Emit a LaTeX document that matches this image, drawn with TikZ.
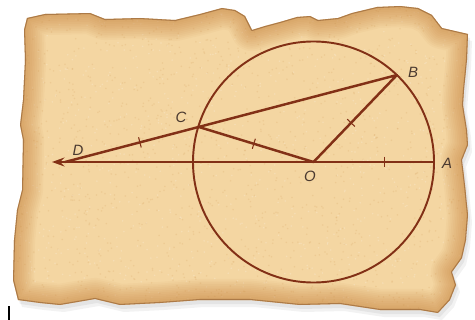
\documentclass[tikz,border=0pt]{standalone}
\usepackage{fontspec}
\setsansfont{Liberation Sans}
\usetikzlibrary{arrows.meta,calc}
\definecolor{carta}{RGB}{244,214,162}
\definecolor{bruciato}{RGB}{200,130,60}
\definecolor{scuro}{RGB}{120,70,30}
\definecolor{inchiostro}{RGB}{130,48,22}
\definecolor{lettera}{RGB}{75,58,48}
\tikzset{
  tratto/.style={inchiostro, line width=1.4pt},
  tacca/.style={inchiostro, line width=0.6pt},
  lettera/.style={font=\sffamily\itshape\fontsize{8.5}{10}\selectfont, text=lettera, inner sep=0pt}
}
% Bordo strappato della pergamena
\def\bordo{(27,18) -- (45,14) -- (90,13) -- (105,19) -- (140,18) -- (175,20) -- (200,14)
  -- (222,8) -- (235,10) -- (245,16) -- (252,30) -- (265,26) -- (280,22) -- (297,17)
  -- (310,16) -- (318,20) -- (338,18) -- (352,13) -- (377,7) -- (400,6) -- (418,8)
  -- (432,15) -- (442,28) -- (455,31) -- (468,34) -- (467,60) -- (464,90) -- (463,105)
  -- (467,130) -- (468,145) -- (462,160) -- (465,185) -- (468,215) -- (466,240)
  -- (462,258) -- (452,272) -- (456,285) -- (450,300) -- (438,313) -- (420,310)
  -- (380,310) -- (340,304) -- (300,305) -- (250,300) -- (200,300) -- (160,303)
  -- (120,305) -- (95,299) -- (60,305) -- (40,303) -- (18,300) -- (13,280) -- (14,240)
  -- (17,210) -- (22,190) -- (23,140) -- (20,125) -- (23,100) -- (25,60) -- (24,30) -- cycle}
\begin{document}
\begin{tikzpicture}[x=0.02cm, y=-0.02cm]
    \useasboundingbox (0,0) rectangle (475,320);
    % Ombra
    \fill[black, opacity=0.05, shift={(4,7)}] \bordo;
    \fill[black, opacity=0.06, shift={(2,4)}] \bordo;
    % Pergamena
    \begin{scope}
        \clip \bordo;
        \fill[carta] \bordo;
        \pgfmathsetseed{7}
        \foreach \i in {1,...,1400}
            \fill[bruciato, opacity=0.14] (10+460*rnd, 5+310*rnd) circle[radius=0.5pt];
        \foreach \i in {1,...,900}
            \fill[white, opacity=0.2] (10+460*rnd, 5+310*rnd) circle[radius=0.5pt];
        \foreach \w in {2,4,...,24}
            \draw[bruciato, line width=\w pt, opacity=0.06, line join=round] \bordo;
        \draw[scuro, line width=1.2pt, opacity=0.45, line join=round] \bordo;
    \end{scope}
    % Segno in basso
    \draw[black, line width=1.1pt] (9,306) -- (9,320);
    % Punti
    \coordinate (O) at (313.5,162);
    \coordinate (A) at (434,162);
    \coordinate (B) at ($(O)+(46.2:120.5 and -120.5)$);
    \coordinate (D) at (65,162);
    \coordinate (P) at (52,162);
    \coordinate (C) at ($(D)!0.403!(B)$);
    % Cerchio
    \draw[inchiostro, line width=1.1pt] (O) circle[radius=120.5];
    % Segmenti
    \draw[tratto, -{Stealth[length=7pt, width=5pt]}] (A) -- (P);
    \draw[tratto, line join=round] (D) -- (B) -- (O) -- (C);
    % Tacche
    \foreach \p/\q/\t in {D/C/0.56, C/O/0.48, O/B/0.45, O/A/0.59}
        \draw[tacca] ($(\p)!\t!(\q)!3pt!90:(\q)$) -- ($(\p)!\t!(\q)!3pt!-90:(\q)$);
    % Etichette
    \node[lettera] (lD) at (78,150) {D};
    \node[lettera] (lC) at (181,117) {C};
    \node[lettera] (lB) at (413,72) {B};
    \node[lettera] (lA) at (447,163) {A};
    \node[lettera] (lO) at (310,176) {O};
\end{tikzpicture}
\end{document}
